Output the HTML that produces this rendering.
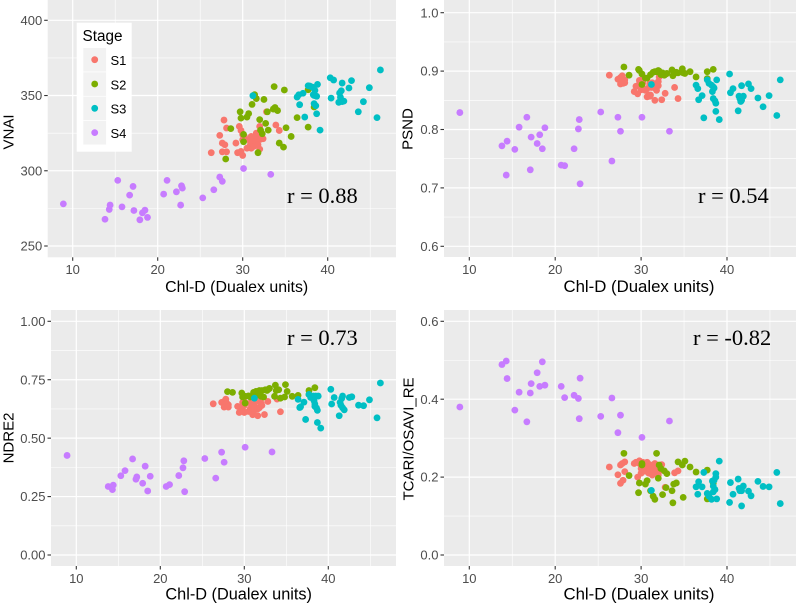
<!DOCTYPE html>
<html>
<head>
<meta charset="utf-8">
<title>Vegetation indices vs Chl-D</title>
<style>
html,body{margin:0;padding:0;background:#fff;width:797px;height:605px;overflow:hidden}
svg{display:block}
text{font-family:"Liberation Sans",sans-serif}
</style>
</head>
<body>
<svg id="chart" xmlns="http://www.w3.org/2000/svg" width="797" height="605" viewBox="0 0 797 605"></svg>
<script>
const stageNames = ['S1', 'S2', 'S3', 'S4'];
const stageColors = ['#F8766D', '#7CAE00', '#00BFC4', '#C77CFF'];

const xTicks = [10, 20, 30, 40];
const xMinorTicks = [15, 25, 35, 45];

const chlS1 = [26.3,27.3,27.6,27.6,27.8,27.9,28.1,28.1,29.2,29.4,29.6,29.8,29.8,30,30,30,30.2,30.5,30.7,30.7,30.9,31,31,31.1,31.2,31.3,31.6,31.6,31.6,31.8,32,32,32.1,32.4,32.8,33.9,34.3];
const chlS2 = [28,28.6,29.7,29.8,30.1,30.1,30.5,30.7,31.1,31.4,31.6,31.8,32,32.1,32.3,32.5,32.7,32.9,33,33.6,33.7,33.8,34.1,34.3,34.8,34.9,35.1,35.7,36.4,37.7,37.7,38.4];
const chlS3 = [31.2,36.4,36.6,36.7,37.1,37.3,37.7,37.9,38.2,38.3,38.4,38.4,38.5,38.6,38.7,38.7,38.8,39.1,40.3,40.4,40.7,41.3,41.4,41.5,41.6,41.7,41.7,41.9,42.5,42.8,43.6,44.2,44.9,45.8,46.2];
const chlS4 = [8.9,13.8,14.3,14.4,15.3,15.8,16.7,17.1,17.2,17.9,18.2,18.5,18.8,20.7,21.1,22.2,22.7,22.8,22.9,25.3,26.6,27.3,27.6,30.1,33.3];

const vnaiS1 = [312,323.5,318.4,312.6,333.7,317.3,312.6,328.4,318.4,312,329.5,326.8,312.9,324,310.2,320.6,322.8,315,320.6,315.5,317.3,322.8,315,318.4,319.5,316.2,325,319.5,322.8,317.3,314.4,329.5,321,321.3,339.2,330.4,326.8];
const vnaiS2 = [307.8,328,339.2,335,324.2,319.3,335.7,338,344.1,350.6,348,312,334,327,324.6,347.4,331.5,339.2,327,341,355.9,342,340,318.4,315.7,353.7,328.6,322.8,335.3,329,353.9,342.4];
const vnaiS3 = [349.9,349,350.5,343.9,351.5,335.7,356.5,356.3,355.6,350.5,344.6,350,353.4,343.2,337.9,349.5,357.4,327,361.8,348.3,360.3,345.5,351.7,348.8,353.2,358.3,346,346.3,355,359.9,339.2,345.9,355.2,335.3,367];
const vnaiS4 = [278,267.8,274.3,277.2,293.6,276,283.8,289.6,273.6,267.4,272,273.8,269,284.5,293.6,286,277.2,290,288.5,282,287.4,295.8,293,301.5,297.6];

const psndS1 = [.893,.886,.889,.878,.892,.879,.885,.88,.865,.874,.861,.884,.878,.87,.884,.868,.88,.867,.856,.87,.859,.857,.878,.859,.872,.88,.85,.871,.878,.867,.882,.875,.89,.851,.862,.872,.853];
const psndS2 = [.907,.893,.903,.901,.877,.895,.888,.888,.894,.898,.899,.899,.901,.9,.894,.897,.893,.895,.896,.902,.892,.895,.898,.897,.904,.897,.896,.899,.89,.899,.887,.903];
const psndS3 = [.877,.876,.87,.851,.858,.82,.885,.879,.876,.865,.853,.873,.871,.849,.845,.831,.885,.817,.895,.863,.87,.832,.857,.853,.848,.875,.85,.857,.878,.87,.854,.839,.858,.824,.885];
const psndS4 = [.829,.772,.722,.78,.766,.804,.821,.731,.787,.776,.791,.767,.803,.739,.738,.767,.801,.817,.707,.83,.746,.821,.797,.821,.797];

const ndreS1 = [.647,.653,.633,.657,.667,.65,.643,.633,.636,.61,.633,.621,.653,.61,.64,.655,.65,.614,.65,.625,.63,.6,.66,.64,.62,.635,.596,.625,.66,.63,.65,.67,.64,.601,.657,.667,.613];
const ndreS2 = [.699,.696,.693,.676,.65,.679,.681,.676,.696,.7,.686,.704,.679,.704,.676,.707,.704,.71,.713,.679,.727,.704,.707,.671,.676,.729,.7,.679,.683,.704,.687,.716];
const ndreS3 = [.671,.666,.631,.634,.654,.58,.687,.674,.68,.66,.646,.636,.68,.629,.619,.567,.68,.543,.709,.646,.674,.596,.653,.641,.67,.68,.63,.621,.674,.677,.641,.639,.664,.587,.736];
const ndreS4 = [.426,.293,.28,.299,.339,.361,.411,.324,.334,.307,.38,.274,.337,.293,.301,.34,.373,.403,.271,.413,.329,.44,.397,.461,.441];

const tcariS1 = [.226,.206,.231,.184,.235,.192,.214,.239,.235,.238,.2,.235,.242,.21,.232,.222,.238,.215,.228,.238,.21,.232,.22,.215,.23,.205,.235,.21,.225,.215,.205,.23,.215,.232,.174,.211,.216];
const tcariS2 = [.261,.204,.16,.185,.235,.231,.182,.191,.165,.151,.143,.261,.197,.231,.222,.155,.216,.173,.209,.165,.134,.182,.185,.239,.231,.148,.241,.226,.213,.218,.144,.185];
const tcariS3 = [.166,.175,.156,.188,.175,.212,.158,.151,.143,.19,.162,.177,.192,.168,.209,.2,.144,.241,.135,.186,.156,.195,.171,.165,.17,.126,.165,.177,.164,.152,.189,.176,.175,.212,.132];
const tcariS4 = [.38,.489,.498,.453,.372,.418,.342,.416,.44,.468,.433,.496,.436,.433,.404,.41,.402,.35,.454,.356,.403,.314,.359,.302,.344];

const vnaiTicks = [250, 300, 350, 400];
const vnaiMinor = [275, 325, 375];
const psndTicks = [0.6, 0.7, 0.8, 0.9, 1.0];
const psndMinor = [0.65, 0.75, 0.85, 0.95];
const ndreTicks = [0, 0.25, 0.5, 0.75, 1];
const ndreMinor = [0.125, 0.375, 0.625, 0.875];
const tcariTicks = [0, 0.2, 0.4, 0.6];
const tcariMinor = [0.1, 0.3, 0.5];

const xLabel = 'Chl-D (Dualex units)';
const NS = 'http://www.w3.org/2000/svg';
const svg = document.getElementById('chart');

function add(parent, tag, attrs, txt) {
  const e = document.createElementNS(NS, tag);
  for (const k in attrs) e.setAttribute(k, attrs[k]);
  if (txt !== undefined) e.textContent = txt;
  parent.appendChild(e);
  return e;
}

function drawPanel(p) {
  const g = add(svg, 'g', {});
  
  
  const xScale = v => p.x0 + (v - 10) * (p.x1 - p.x0) / 30;
  const yScale = v => p.ya + (v - p.va) * (p.yb - p.ya) / (p.vb - p.va);

  const bg = add(g, 'rect', {x: p.l, y: p.t, width: p.r - p.l, height: p.b - p.t, fill: '#EBEBEB'});
  
  

  xMinorTicks.forEach(v => {
    const ln = add(g, 'line', {x1: xScale(v), x2: xScale(v), y1: p.t, y2: p.b, stroke: '#fff', 'stroke-width': 0.6});
    
    
  });
  p.minor.forEach(v => {
    const ln = add(g, 'line', {x1: p.l, x2: p.r, y1: yScale(v), y2: yScale(v), stroke: '#fff', 'stroke-width': 0.6});
    
    
  });
  xTicks.forEach(v => {
    const ln = add(g, 'line', {x1: xScale(v), x2: xScale(v), y1: p.t, y2: p.b, stroke: '#fff', 'stroke-width': 1.2});
    
    
    const tk = add(g, 'line', {x1: xScale(v), x2: xScale(v), y1: p.b, y2: p.b + 3.5, stroke: '#333', 'stroke-width': 1.1});
    
    
    const lb = add(g, 'text', {x: xScale(v), y: p.b + 16.8, 'text-anchor': 'middle', 'font-size': 13, fill: '#4D4D4D'}, String(v));
    
    
  });
  p.ticks.forEach(v => {
    const ln = add(g, 'line', {x1: p.l, x2: p.r, y1: yScale(v), y2: yScale(v), stroke: '#fff', 'stroke-width': 1.2});
    
    
    const tk = add(g, 'line', {x1: p.l - 3.5, x2: p.l, y1: yScale(v), y2: yScale(v), stroke: '#333', 'stroke-width': 1.1});
    
    
    const lb = add(g, 'text', {x: p.l - 5.5, y: yScale(v) + 4.6, 'text-anchor': 'end', 'font-size': 13, fill: '#4D4D4D'}, v.toFixed(p.dec));
    
    
  });

  p.series.forEach((s, i) => {
    s.ys.forEach((val, j) => {
      const c = add(g, 'circle', {cx: xScale(s.xs[j]), cy: yScale(val), r: 3.4, fill: stageColors[i]});
      
      
    });
  });

  const xt = add(g, 'text', {x: p.xtx, y: p.xty, 'text-anchor': 'middle', 'font-size': p.xtSize, fill: '#000'}, xLabel);
  
  

  const yt = add(g, 'text', {x: 0, y: 0, 'text-anchor': 'middle', 'font-size': 15, fill: '#000',
    transform: 'translate(' + p.ytx + ',' + p.yty + ') rotate(-90)'}, p.yLabel);
  
  

  const rl = add(g, 'text', {x: p.rx, y: p.ry, 'font-size': 22.5, fill: '#000', style: 'font-family:"Liberation Serif",serif'}, p.rText);
  
  
}

drawPanel({id: 'vnai', l: 47.7, r: 396, t: 0, b: 257.3, x0: 72.7, x1: 327.7, va: 400, ya: 20.3, vb: 250, yb: 246,
  ticks: vnaiTicks, minor: vnaiMinor, dec: 0, yLabel: 'VNAI', rText: 'r = 0.88', rx: 287, ry: 203,
  xtx: 236.7, xty: 292, xtSize: 15.9, ytx: 13.3, yty: 132,
  series: [{xs: chlS1, ys: vnaiS1}, {xs: chlS2, ys: vnaiS2}, {xs: chlS3, ys: vnaiS3}, {xs: chlS4, ys: vnaiS4}]});
drawPanel({id: 'psnd', l: 444, r: 796, t: 0, b: 257, x0: 469.3, x1: 727, va: 1, ya: 12.7, vb: 0.6, yb: 246.3,
  ticks: psndTicks, minor: psndMinor, dec: 1, yLabel: 'PSND', rText: 'r = 0.54', rx: 698, ry: 203,
  xtx: 639, xty: 292, xtSize: 16.8, ytx: 412.5, yty: 129,
  series: [{xs: chlS1, ys: psndS1}, {xs: chlS2, ys: psndS2}, {xs: chlS3, ys: psndS3}, {xs: chlS4, ys: psndS4}]});
drawPanel({id: 'ndre', l: 51, r: 396, t: 310, b: 566, x0: 76.3, x1: 328.3, va: 1, ya: 321.3, vb: 0, yb: 555,
  ticks: ndreTicks, minor: ndreMinor, dec: 2, yLabel: 'NDRE2', rText: 'r = 0.73', rx: 287, ry: 345,
  xtx: 238.7, xty: 599.5, xtSize: 16.3, ytx: 13.5, yty: 438,
  series: [{xs: chlS1, ys: ndreS1}, {xs: chlS2, ys: ndreS2}, {xs: chlS3, ys: ndreS3}, {xs: chlS4, ys: ndreS4}]});
drawPanel({id: 'tcari', l: 444, r: 796, t: 310, b: 566, x0: 469.3, x1: 727, va: 0.6, ya: 321.3, vb: 0, yb: 555,
  ticks: tcariTicks, minor: tcariMinor, dec: 1, yLabel: 'TCARI/OSAVI_RE', rText: 'r = -0.82', rx: 693, ry: 345,
  xtx: 639, xty: 599.5, xtSize: 16.8, ytx: 413.5, yty: 439,
  series: [{xs: chlS1, ys: tcariS1}, {xs: chlS2, ys: tcariS2}, {xs: chlS3, ys: tcariS3}, {xs: chlS4, ys: tcariS4}]});

const legend = add(svg, 'g', {});


const legendBox = add(legend, 'rect', {x: 76.7, y: 22.7, width: 55, height: 129, fill: '#fff'});


const legendTitle = add(legend, 'text', {x: 82.5, y: 41, 'font-size': 15.3, fill: '#000'}, 'Stage');


stageNames.forEach((name, i) => {
  const top = 48 + i * 24.3;
  const key = add(legend, 'rect', {x: 83.3, y: top, width: 22.8, height: 23.6, fill: '#F2F2F2'});
  
  
  const dot = add(legend, 'circle', {cx: 94.7, cy: top + 11.7, r: 3.4, fill: stageColors[i]});
  
  
  const lab = add(legend, 'text', {x: 110.5, y: top + 17, 'font-size': 13, fill: '#000'}, name);
  
  
});
</script>
</body>
</html>
